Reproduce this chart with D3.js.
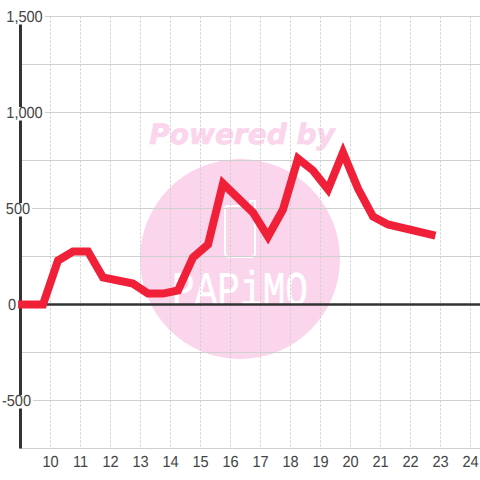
<!DOCTYPE html>
<html>
<head>
<meta charset="utf-8">
<script src="https://cdn.jsdelivr.net/npm/d3@7/dist/d3.min.js"></script>
<style>
html, body { margin: 0; padding: 0; background: #fff; }
svg { display: block; }
text { font-family: "Liberation Sans", sans-serif; text-rendering: geometricPrecision; }
</style>
</head>
<body>
<svg id="chart" width="480" height="480"></svg>
<script>
// hours on the x axis
const hours = [8.92, 9.75, 10.25, 10.75, 11.25, 11.75, 12.75, 13.25, 13.75, 14.25, 14.75, 15.25, 15.75, 16.75, 17.25, 17.75, 18.25, 18.75, 19.25, 19.75, 20.25, 20.75, 21.25, 22.83];
const values = [0, 0, 229, 276, 276, 141, 109, 57, 57, 73, 245, 312, 630, 479, 354, 495, 760, 698, 599, 792, 604, 458, 417, 359];
const xTicks = [10, 11, 12, 13, 14, 15, 16, 17, 18, 19, 20, 21, 22, 23, 24];
const yGrid = [-750, -500, -250, 0, 250, 500, 750, 1000, 1250, 1500];
const yLabels = [-500, 0, 500, 1000, 1500];
// centre horizontal des étiquettes y
const yLabelCenter = { "-500": 16.5, "0": 12, "500": 18, "1000": 24.5, "1500": 24.5 };

const svg = d3.select("#chart");

const x = d3.scaleLinear().domain([9, 24.333]).range([20.5, 480.5]);
const y = d3.scaleLinear().domain([-750, 1500]).range([448.5, 16.5]);
const labelScaleX = 0.91;

// filigrane
const mark = svg.append("g").attr("class", "watermark");
mark.append("circle")
    .attr("cx", 240).attr("cy", 259).attr("r", 100)
    .attr("fill", "#fbd5ec");
mark.append("text")
    .attr("x", 242).attr("y", 144)
    .attr("text-anchor", "middle")
    .attr("font-size", 28)
    .attr("font-weight", "bold")
    .attr("font-style", "italic")
    .style("font-family", "'DejaVu Sans', sans-serif")
    .attr("fill", "#fbd5ec")
    .attr("stroke", "#fbd5ec")
    .attr("stroke-width", 0.7)
    .text("Powered by");
mark.append("path")
    .attr("d", "M228,206 H250 V201 H255 V253 Q255,257 251,257 H229 Q225,257 225,253 V209 Q225,206 228,206")
    .attr("fill", "none")
    .attr("stroke", "#fff")
    .attr("stroke-width", 2);
mark.append("text")
    .attr("transform", "translate(240,305) scale(0.82,1.05)")
    .attr("text-anchor", "middle")
    .attr("font-size", 46)
    .style("font-family", "'Liberation Mono', monospace")
    .attr("fill", "#fff")
    .attr("stroke", "#fff")
    .attr("stroke-width", 0.5)
    .text("PAPiMO");

// grille
svg.append("g").selectAll("line")
    .data(yGrid)
    .join("line")
    .attr("x1", 20).attr("x2", 480)
    .attr("y1", d => y(d)).attr("y2", d => y(d))
    .attr("stroke", "#d0d0d0")
    .attr("stroke-width", 1);

svg.append("g").selectAll("line")
    .data(xTicks)
    .join("line")
    .attr("x1", d => x(d)).attr("x2", d => x(d))
    .attr("y1", y(1500)).attr("y2", y(-750))
    .attr("stroke", "#cccccc")
    .attr("stroke-width", 1)
    .attr("stroke-dasharray", "2,2");

// axes
svg.append("line")
    .attr("x1", 20).attr("x2", 480)
    .attr("y1", y(0)).attr("y2", y(0))
    .attr("stroke", "#333333")
    .attr("stroke-width", 2.5);
svg.append("line")
    .attr("x1", 20.5).attr("x2", 20.5)
    .attr("y1", y(1500)).attr("y2", y(-750))
    .attr("stroke", "#333333")
    .attr("stroke-width", 3);

// courbe
const line = d3.line()
    .x((d, i) => x(hours[i]))
    .y(d => y(d));

svg.append("path")
    .datum(values)
    .attr("d", line)
    .attr("fill", "none")
    .attr("stroke", "#f02038")
    .attr("stroke-width", 8)
    .attr("stroke-linejoin", "miter");

// étiquettes y, fond blanc sous le texte
const labelFormat = d => d3.format(",")(d).replace("\u2212", "-");
const yLabelGroups = svg.append("g").selectAll("g")
    .data(yLabels)
    .join("g")
    .attr("transform", d => `translate(${yLabelCenter[d]},${y(d)})`);

yLabelGroups.each(function(d) {
    const g = d3.select(this);
    const text = g.append("text")
        .attr("y", 5.5)
        .attr("transform", `scale(${labelScaleX},1)`)
        .attr("text-anchor", "middle")
        .attr("font-size", 16)
        .attr("fill", "#444444")
        .text(labelFormat(d));
    if (d !== 0) {
        const width = text.node().getBBox().width * labelScaleX;
        g.insert("rect", "text")
            .attr("x", -width / 2 - 1).attr("y", -5.5)
            .attr("width", width + 3).attr("height", 13.5)
            .attr("fill", "#fff");
    }
});

// étiquettes x
svg.append("g").selectAll("text")
    .data(xTicks)
    .join("text")
    .attr("transform", d => `translate(${x(d)},466.5) scale(${labelScaleX},1)`)
    .attr("text-anchor", "middle")
    .attr("font-size", 16)
    .attr("fill", "#444444")
    .text(d => d);
</script>
</body>
</html>
